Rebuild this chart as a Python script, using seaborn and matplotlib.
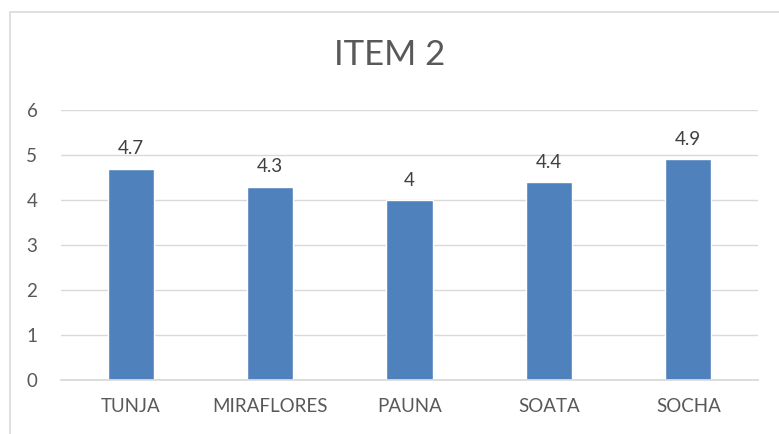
import matplotlib
matplotlib.use("Agg")
import matplotlib.pyplot as plt
import seaborn as sns
import pandas as pd
from matplotlib.patches import Rectangle

categories = ["TUNJA", "MIRAFLORES", "PAUNA", "SOATA", "SOCHA"]
values = [4.7, 4.3, 4.0, 4.4, 4.9]
value_labels = ["4.7", "4.3", "4", "4.4", "4.9"]
yticks = [0, 1, 2, 3, 4, 5, 6]

sns.set_theme(style="white")
plt.rcParams["font.family"] = ["Lato", "DejaVu Sans"]

W, H = 779, 434
fig = plt.figure(figsize=(W / 100, H / 100), dpi=100)
ax = fig.add_axes([61 / W, 1 - 380 / H, (758 - 61) / W, (380 - 110) / H])

df = pd.DataFrame({"cat": categories, "val": values})
sns.barplot(data=df, x="cat", y="val", color="#4F81BD", width=0.33,
            saturation=1, ax=ax, zorder=3)

ax.set_ylim(0, 6)
ax.set_yticks(yticks)
ax.set_xlim(-0.5, len(categories) - 0.5)
ax.grid(axis="y", color="#D9D9D9", linewidth=1, zorder=0)
for s in ["top", "right", "left"]:
    ax.spines[s].set_visible(False)
ax.spines["bottom"].set_color("#D9D9D9")
ax.spines["bottom"].set_zorder(4)
ax.tick_params(axis="both", length=0, labelsize=13.5, colors="#595959")
ax.tick_params(axis="y", pad=17)
ax.tick_params(axis="x", pad=13)
ax.set_xlabel("")
ax.set_ylabel("")

for p, lab in zip(ax.patches, value_labels):
    ax.annotate(lab, (p.get_x() + p.get_width() / 2, p.get_height()),
                xytext=(0, 8), textcoords="offset points",
                ha="center", va="bottom", fontsize=13.5, color="#404040")

fig.text(0.5, 1 - 55 / H, "ITEM 2", ha="center", va="center",
         fontsize=25, color="#595959")

fig.patches.append(Rectangle((9.5 / W, -0.1), 1.2, (H - 11.5) / H + 0.1,
                             transform=fig.transFigure, fill=False,
                             edgecolor="#D9D9D9", linewidth=1.2))

fig.savefig("out.png", dpi=100)
